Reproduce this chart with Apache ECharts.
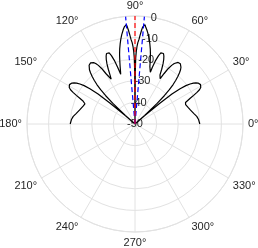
<!DOCTYPE html>
<html><head><meta charset="utf-8">
<script src="https://cdn.jsdelivr.net/npm/echarts@6/dist/echarts.min.js"></script>
<style>html,body{margin:0;padding:0;background:#fff}#c{width:258px;height:248px}</style>
</head><body><div id="c"></div>
<script>
// angle (deg) of each sample of the array pattern
const angles = [
  0, 4, 7, 10, 14, 17, 19, 21, 22, 23,
  24, 25, 26, 27, 28, 29, 30, 31, 32, 33,
  34, 35, 36, 37, 38, 39, 40, 41, 41.5, 42,
  43, 44, 45, 46, 47, 48, 49, 50, 51, 52,
  53, 54, 55, 56, 57, 58, 59, 60, 61, 61.5,
  62, 63, 64, 65, 66, 67, 68, 69, 70, 71,
  72, 73, 73.5, 74, 74.5, 75.5, 76.5, 77.5, 78.5, 79.5,
  80.5, 81.5, 82.5, 83, 83.7, 84.3, 84.7, 85, 85.5, 86,
  86.7, 87.3, 88, 88.5, 89, 89.4, 89.7, 90,
  90.3, 90.6, 91, 91.5, 92, 92.7, 93.3, 94, 94.5, 95,
  95.3, 95.7, 96.3, 97, 97.5, 98.5, 99.5, 100.5, 101.5, 102.5,
  103.5, 104.5, 105.5, 106, 106.5, 107, 108, 109, 110, 111,
  112, 113, 114, 115, 116, 117, 118, 118.5, 119, 120,
  121, 122, 123, 124, 125, 126, 127, 128, 129, 130,
  131, 132, 133, 134, 135, 136, 137, 138, 138.5, 139,
  140, 141, 142, 143, 144, 145, 146, 147, 148, 149,
  150, 151, 152, 153, 154, 155, 156, 157, 158, 159,
  161, 163, 166, 170, 173, 176, 180
];
// pattern gain (dB) at each angle
const gainDb = [
  -20, -20.5, -21.2, -22.3, -23.5, -24.2, -24.6, -24.9, -25, -24.6,
  -23.5, -21.8, -19.8, -17.8, -16.2, -15.2, -14.7, -14.6, -14.8, -15.2,
  -16, -17, -18.5, -20.5, -23.5, -28, -35, -44, -50, -44,
  -36, -31, -27.5, -24.6, -22.3, -20.3, -18.6, -17.2, -16.2, -15.5,
  -15.1, -15, -15.2, -15.7, -16.6, -18, -20, -23, -26, -27,
  -26.5, -24.5, -21.8, -19.3, -17.3, -15.8, -14.8, -14.5, -15, -16.5,
  -19, -22.5, -25, -26, -25, -22.5, -19.8, -17, -14.5, -12.3,
  -10.2, -8.3, -6.6, -5.8, -4.8, -3.8, -3.5, -3.8, -5, -6.5,
  -8.8, -10.8, -12.3, -14, -16.5, -19.5, -26, -50,
  -26, -19.5, -16.5, -14, -12.3, -10.8, -8.8, -6.5, -5, -3.8,
  -3.5, -3.8, -4.8, -5.8, -6.6, -8.3, -10.2, -12.3, -14.5, -17,
  -19.8, -22.5, -25, -26, -25, -22.5, -19, -16.5, -15, -14.5,
  -14.8, -15.8, -17.3, -19.3, -21.8, -24.5, -26.5, -27, -26, -23,
  -20, -18, -16.6, -15.7, -15.2, -15, -15.1, -15.5, -16.2, -17.2,
  -18.6, -20.3, -22.3, -24.6, -27.5, -31, -36, -44, -50, -44,
  -35, -28, -23.5, -20.5, -18.5, -17, -16, -15.2, -14.8, -14.6,
  -14.7, -15.2, -16.2, -17.8, -19.8, -21.8, -23.5, -24.6, -25, -24.9,
  -24.6, -24.2, -23.5, -22.3, -21.2, -20.5, -20
];
// marker directions (deg)
const beamEdges = [85, 95];
const steerAngle = 90;
const rMin = -50, rMax = 0, rStep = 10;
const angleStep = 30;

const patternData = angles.map((a, i) => [gainDb[i], a]);
const font = 'Liberation Sans, Arial, Helvetica, sans-serif';
const gridColor = '#e2e2e2';

const chart = echarts.init(document.getElementById('c'), null, {renderer: 'canvas'});
const series = [{
  type: 'line', coordinateSystem: 'polar', polarIndex: 0,
  data: patternData, showSymbol: false, symbol: 'none',
  lineStyle: {color: '#000', width: 1.2}, z: 3
}];
beamEdges.forEach(a => series.push({
  type: 'line', coordinateSystem: 'polar', polarIndex: 0,
  data: [[rMin, a], [rMax, a]], showSymbol: false, symbol: 'none',
  lineStyle: {color: '#0000ff', width: 1.2, type: [5, 3]}, z: 4
}));
series.push({
  type: 'line', coordinateSystem: 'polar', polarIndex: 0,
  data: [[rMin, steerAngle], [rMax, steerAngle]], showSymbol: false, symbol: 'none',
  lineStyle: {color: '#ff0000', width: 1.2, type: [5, 3]}, z: 5
});

chart.setOption({
  animation: false,
  backgroundColor: '#fff',
  polar: [
    {center: [135, 124], radius: 108},
    {center: [135, 124], radius: 108}
  ],
  angleAxis: [{
    polarIndex: 0, type: 'value', min: 0, max: 360, interval: angleStep,
    startAngle: 0, clockwise: false,
    axisLine: {lineStyle: {color: gridColor, width: 1}},
    axisTick: {show: false},
    axisLabel: {formatter: '{value}°', color: '#262626', fontSize: 11, fontFamily: font, margin: 5},
    splitLine: {lineStyle: {color: gridColor, width: 1}}
  }, {
    polarIndex: 1, type: 'value', min: 0, max: 360, startAngle: 80, clockwise: false, show: false
  }],
  radiusAxis: [{
    polarIndex: 0, type: 'value', min: rMin, max: rMax, interval: rStep,
    axisLine: {show: false}, axisTick: {show: false}, axisLabel: {show: false},
    splitLine: {lineStyle: {color: gridColor, width: 1}}
  }, {
    polarIndex: 1, type: 'value', min: rMin, max: rMax, interval: rStep,
    axisLine: {show: false}, axisTick: {show: false}, splitLine: {show: false},
    axisLabel: {show: true, showMinLabel: true, showMaxLabel: true, margin: 0,
      align: 'center', verticalAlign: 'middle', color: '#262626', fontSize: 11, fontFamily: font}
  }],
  series: series
});
</script></body></html>
